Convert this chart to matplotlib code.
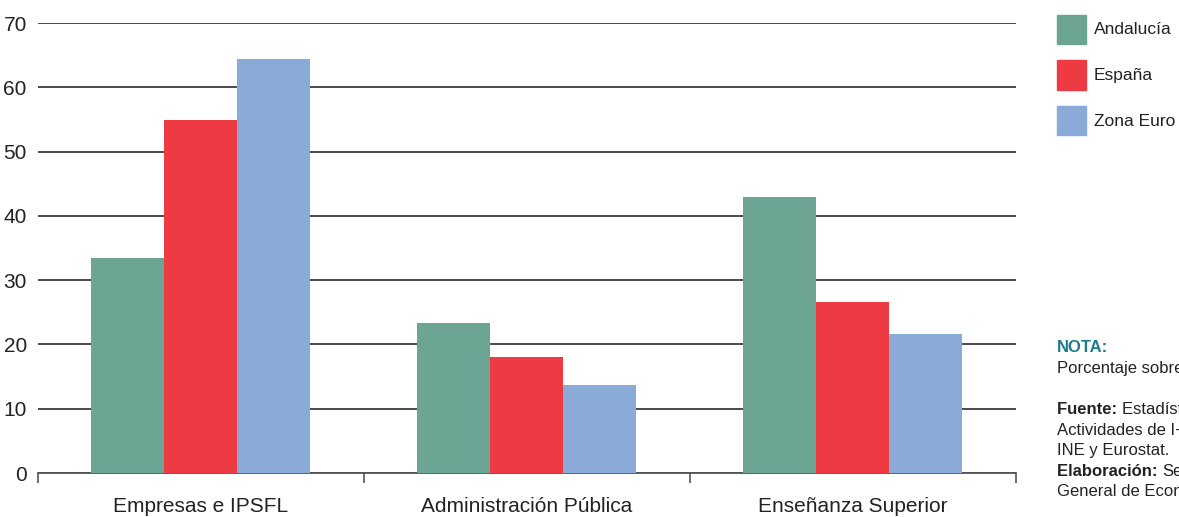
import matplotlib
matplotlib.use("Agg")
import matplotlib.pyplot as plt
from matplotlib.patches import Rectangle
import numpy as np

plt.rcParams['font.family'] = ['Liberation Sans', 'DejaVu Sans']

categorias = ["Empresas e IPSFL", "Administración Pública", "Enseñanza Superior"]
series = ["Andalucía", "España", "Zona Euro"]
andalucia = [33.4, 23.3, 42.9]
espana = [54.9, 18.0, 26.6]
zona_euro = [64.4, 13.7, 21.6]
colores = ["#6ca594", "#ee3a43", "#8aaad8"]

fig = plt.figure(figsize=(11.79, 5.17), dpi=100)
ax = fig.add_axes([0.0322, 0.0851, 0.8295, 0.8704])

x = np.arange(len(categorias))
ancho = 0.224
for i, (nombre, valores) in enumerate(zip(series, [andalucia, espana, zona_euro])):
    ax.bar(x + (i - 1) * ancho, valores, width=ancho, color=colores[i],
           zorder=3, linewidth=0)

ax.set_xlim(-0.5, 2.5)
ax.set_ylim(0, 70)
ax.set_yticks(range(0, 71, 10))
ax.yaxis.grid(True, color="#3a3a3a", linewidth=1.3, zorder=1)
ax.tick_params(axis="y", length=0, pad=8, labelsize=15, labelcolor="#222222")

ax.set_xticks(x)
ax.set_xticklabels(categorias, fontsize=15, color="#222222")
ax.tick_params(axis="x", length=0, pad=17)
ax.set_xticks([-0.5, 0.5, 1.5, 2.5], minor=True)
ax.tick_params(axis="x", which="minor", length=7, width=1.2, color="#555555")

for s in ["top", "right", "left"]:
    ax.spines[s].set_visible(False)
ax.spines["bottom"].set_color("#555555")
ax.spines["bottom"].set_linewidth(1.3)

# leyenda a la derecha
for i, nombre in enumerate(series):
    y0 = 1 - (15 + i * 45.5) / 517
    fig.patches.append(Rectangle((1057 / 1179, y0 - 29 / 517), 29 / 1179, 29 / 517,
                                 transform=fig.transFigure, color=colores[i]))
    fig.text(1094 / 1179, y0 - 15 / 517, nombre, fontsize=12.5, color="#222222",
             va="center", ha="left")

# notas (cortadas por el borde, como en el original)
fig.text(1057 / 1179, 1 - 347 / 517, "NOTA:", fontsize=12, color="#1a7a8c",
         fontweight="bold", va="center")
fig.text(1057 / 1179, 1 - 368 / 517, "Porcentaje sobre el total", fontsize=12,
         color="#222222", va="center")
lineas = [("Fuente: ", "Estadística sobre"),
          ("", "Actividades de I+D,"),
          ("", "INE y Eurostat."),
          ("Elaboración: ", "Secretaría"),
          ("", "General de Economía")]
for j, (neg, resto) in enumerate(lineas):
    yy = 1 - (410 + j * 20.5) / 517
    t = fig.text(1057 / 1179, yy, neg, fontsize=12, color="#222222",
                 fontweight="bold", va="center")
    if neg:
        fig.canvas.draw()
        bb = t.get_window_extent()
        xs = bb.x1 / fig.bbox.width
    else:
        xs = 1057 / 1179
    fig.text(xs, yy, resto, fontsize=12, color="#222222", va="center")

fig.savefig("out.png", dpi=100)
